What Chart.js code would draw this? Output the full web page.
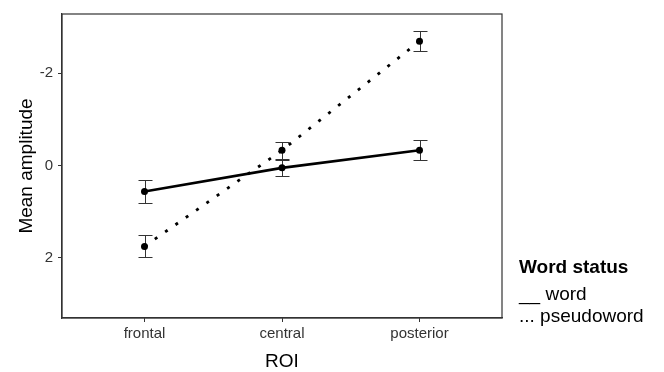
<!DOCTYPE html>
<html>
<head>
<meta charset="utf-8">
<script src="https://cdn.jsdelivr.net/npm/chart.js@4"></script>
<style>
  html, body { margin: 0; padding: 0; background: #fff; }
  #wrap { width: 664px; height: 372px; }
</style>
</head>
<body>
<div id="wrap"><canvas id="roi-chart"></canvas></div>
<script>
const categories = ['frontal', 'central', 'posterior'];
const wordMeans = [0.56, 0.05, -0.33];
const wordErrors = [0.25, 0.18, 0.22];
const pseudoMeans = [1.75, -0.33, -2.69];
const pseudoErrors = [0.24, 0.19, 0.22];
const yTicks = [-2, 0, 2];
const legendTitle = 'Word status';
const legendItems = ['__ word', '... pseudoword'];

const FONT = '"Liberation Sans", Arial, sans-serif';

function toPoints(means) {
  return means.map((v, i) => ({ x: i + 1, y: v }));
}

// error bars, panel frame and the text legend
const extras = {
  id: 'extras',
  beforeDatasetsDraw(chart) {
    const { ctx, scales } = chart;
    const sets = [[wordMeans, wordErrors], [pseudoMeans, pseudoErrors]];
    ctx.save();
    ctx.strokeStyle = '#333';
    ctx.lineWidth = 1;
    sets.forEach(([means, errs]) => {
      means.forEach((m, i) => {
        const x = Math.round(scales.x.getPixelForValue(i + 1)) + 0.5;
        const y1 = Math.round(scales.y.getPixelForValue(m - errs[i])) + 0.5;
        const y2 = Math.round(scales.y.getPixelForValue(m + errs[i])) + 0.5;
        ctx.beginPath();
        ctx.moveTo(x, y1); ctx.lineTo(x, y2);
        ctx.moveTo(x - 7, y1); ctx.lineTo(x + 7, y1);
        ctx.moveTo(x - 7, y2); ctx.lineTo(x + 7, y2);
        ctx.stroke();
      });
    });
    ctx.restore();
  },
  afterDraw(chart) {
    const { ctx, chartArea: a } = chart;
    ctx.save();
    ctx.strokeStyle = '#333';
    ctx.lineWidth = 1.2;
    ctx.strokeRect(a.left, a.top, a.right - a.left, a.bottom - a.top);
    ctx.fillStyle = '#000';
    ctx.textBaseline = 'alphabetic';
    ctx.font = 'bold 19px ' + FONT;
    ctx.fillText(legendTitle, 519, 273);
    ctx.font = '19px ' + FONT;
    ctx.fillText(legendItems[0], 519, 300);
    ctx.fillText(legendItems[1], 519, 322);
    ctx.restore();
  }
};

new Chart(document.getElementById('roi-chart'), {
  type: 'line',
  data: {
    datasets: [
      {
        label: 'word',
        data: toPoints(wordMeans),
        borderColor: '#000',
        backgroundColor: '#000',
        borderWidth: 2.6,
        pointRadius: 3.5,
        pointBorderWidth: 0,
      },
      {
        label: 'pseudoword',
        data: toPoints(pseudoMeans),
        borderColor: '#000',
        backgroundColor: '#000',
        borderWidth: 2.8,
        borderDash: [3, 9.6],
        pointRadius: 3.5,
        pointBorderWidth: 0,
      },
    ]
  },
  options: {
    responsive: true,
    maintainAspectRatio: false,
    animation: false,
    layout: { padding: { top: 10, right: 162, left: 0, bottom: 0 } },
    scales: {
      x: {
        type: 'linear',
        min: 0.4,
        max: 3.6,
        afterBuildTicks: (s) => { s.ticks = categories.map((c, i) => ({ value: i + 1 })); },
        afterFit: (s) => { s.height = 54; },
        grid: { drawOnChartArea: false, drawTicks: true, tickLength: 4, color: '#333' },
        border: { display: true, color: '#333', width: 1.2 },
        ticks: {
          color: '#333',
          font: { family: FONT, size: 15 },
          padding: 3,
          callback: (v) => categories[v - 1],
        },
        title: {
          display: true,
          text: 'ROI',
          color: '#000',
          font: { family: FONT, size: 19, lineHeight: 1.1 },
          padding: { top: 8, bottom: 0 },
        },
      },
      y: {
        type: 'linear',
        reverse: true,
        min: -3.28,
        max: 3.30,
        afterBuildTicks: (s) => { s.ticks = yTicks.map(v => ({ value: v })); },
        afterFit: (s) => { s.width = 62; },
        grid: { drawOnChartArea: false, drawTicks: true, tickLength: 4, color: '#333' },
        border: { display: true, color: '#333', width: 1.2 },
        ticks: {
          color: '#333',
          font: { family: FONT, size: 15 },
          padding: 5,
        },
        title: {
          display: true,
          text: 'Mean amplitude',
          color: '#000',
          font: { family: FONT, size: 19 },
          padding: { top: 15, bottom: 6 },
        },
      },
    },
    plugins: {
      legend: { display: false },
      tooltip: { enabled: false },
    },
  },
  plugins: [extras],
});
</script>
</body>
</html>
